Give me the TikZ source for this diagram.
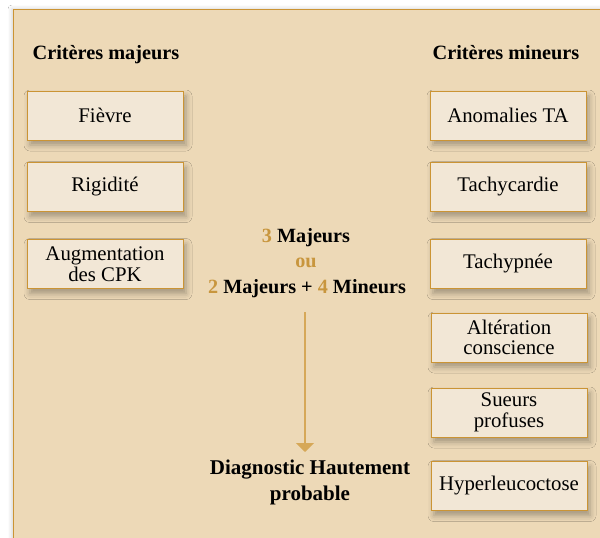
\documentclass[tikz,border=0pt]{standalone}
\usepackage{fontspec}
\setmainfont{Liberation Serif}
\usetikzlibrary{arrows.meta,shadows.blur}
\definecolor{panelfill}{RGB}{237,217,183}
\definecolor{boxfill}{RGB}{242,231,214}
\definecolor{gold}{RGB}{203,148,52}
\definecolor{numcol}{RGB}{200,150,62}
\definecolor{arrowcol}{RGB}{214,168,88}
\tikzset{
  crit/.style={draw=gold, line width=0.9pt, fill=boxfill, minimum width=156pt, minimum height=49pt,
    inner sep=0pt, align=center, font=\fontsize{20.8}{20.5}\selectfont,
    blur shadow={shadow xshift=3pt, shadow yshift=-5pt, shadow blur radius=6pt, shadow opacity=32}},
  head/.style={anchor=base, inner sep=0pt, font=\fontsize{20.3}{22}\selectfont\bfseries},
  mid/.style={anchor=base, inner sep=0pt, font=\fontsize{20.2}{22}\selectfont\bfseries},
  diag/.style={anchor=base, inner sep=0pt, font=\fontsize{21}{22}\selectfont\bfseries},
  num/.style={text=numcol}
}
\begin{document}
\begin{tikzpicture}[x=1pt,y=-1pt]
\useasboundingbox (0,0) rectangle (600,538);
\clip (0,0) rectangle (600,538);
\fill[white] (0,0) rectangle (600,538);
\fill[panelfill, draw=gold, line width=0.9pt,
  blur shadow={shadow xshift=-1pt, shadow yshift=0pt, shadow blur radius=4pt, shadow opacity=20}]
  (13,9) rectangle (640,580);

\node[head] (hmaj) at (106,59) {Critères majeurs};
\node[head] (hmin) at (506,59) {Critères mineurs};

\node[crit] (fievre) at (105,115.5) {Fièvre};
\node[crit] (rigid) at (105,187) {Rigidité};
\node[crit] (cpk) at (105,264) {Augmentation\\des CPK};

\node[crit] (ta) at (508,115.5) {Anomalies TA};
\node[crit] (tachyc) at (508,187) {Tachycardie};
\node[crit] (tachyp) at (508,264) {Tachypnée};
\node[crit] (alter) at (509,337.5) {Altération\\conscience};
\node[crit] (sueurs) at (509,412.5) {Sueurs\\profuses};
\node[crit] (hyper) at (509,486) {Hyperleucoctose};

\node[mid] (l1) at (306,242) {\textcolor{numcol}{3} Majeurs};
\node[mid] (l2) at (306,267) {\textcolor{numcol}{ou}};
\node[mid] (l3) at (307,293) {\textcolor{numcol}{2} Majeurs + \textcolor{numcol}{4} Mineurs};

\coordinate (astart) at (305,312);
\node[diag] (d1) at (310,474) {Diagnostic Hautement};
\node[diag] (d2) at (310,500) {probable};
\coordinate (aend) at (305,452);
\draw[arrowcol, line width=2pt, -{Triangle[width=18pt,length=9pt]}] (astart) -- (aend);
\end{tikzpicture}
\end{document}
